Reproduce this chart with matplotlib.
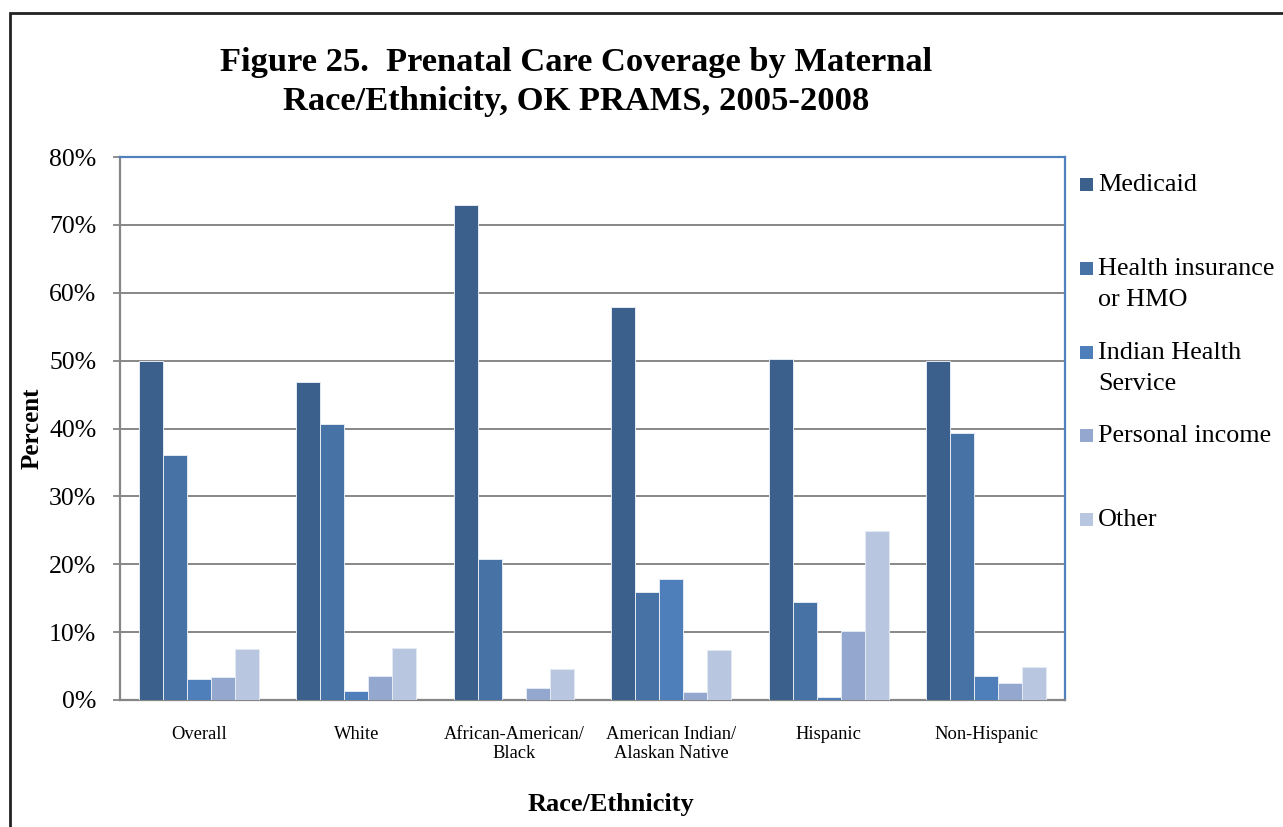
import matplotlib
matplotlib.use("Agg")
import matplotlib.pyplot as plt
from matplotlib.patches import Rectangle
import numpy as np

plt.rcParams['font.family'] = ['Liberation Serif', 'DejaVu Serif']

categories = ["Overall", "White", "African-American/\nBlack",
              "American Indian/\nAlaskan Native", "Hispanic", "Non-Hispanic"]
series_names = ["Medicaid", "Health insurance\nor HMO", "Indian Health\nService",
                "Personal income", "Other"]
medicaid = [50.0, 46.9, 73.0, 57.9, 50.3, 50.0]
health_insurance = [36.1, 40.6, 20.7, 15.9, 14.4, 39.4]
indian_health = [3.1, 1.3, 0.0, 17.9, 0.4, 3.5]
personal_income = [3.4, 3.6, 1.8, 1.2, 10.2, 2.5]
other = [7.5, 7.6, 4.6, 7.4, 24.9, 4.8]
series_values = [medicaid, health_insurance, indian_health, personal_income, other]
colors = ["#3B608B", "#4672A6", "#4F7FBB", "#94A8CF", "#B9C6E0"]
y_ticks = [0, 10, 20, 30, 40, 50, 60, 70, 80]

W, H = 1283, 827
fig = plt.figure(figsize=(W / 100, H / 100), dpi=100)
ax = fig.add_axes([120 / W, 1 - 700 / H, (1065 - 120) / W, (700 - 157) / H])

x = np.arange(len(categories))
bw = 0.152
n = len(series_values)
for i, (vals, c) in enumerate(zip(series_values, colors)):
    ax.bar(x + (i - (n - 1) / 2) * bw, vals, width=bw, color=c,
           edgecolor="#E4EAF3", linewidth=0.7, zorder=3)

ax.set_xlim(-0.5, len(categories) - 0.5)
ax.set_ylim(0, 80)
ax.set_yticks(y_ticks)
ax.set_yticklabels([f"{t}%" for t in y_ticks], fontsize=18.5)
ax.set_xticks(x)
ax.set_xticklabels(categories, fontsize=13.3, linespacing=1.12)
ax.tick_params(axis='x', length=0, pad=19)
ax.tick_params(axis='y', length=5, width=1.3, color="#868686", pad=12, direction='out')
ax.yaxis.grid(True, color="#878787", linewidth=1.4, zorder=0)
ax.set_axisbelow(True)

for side in ("left", "bottom"):
    ax.spines[side].set_color("#868686")
    ax.spines[side].set_linewidth(1.6)
for side in ("top", "right"):
    ax.spines[side].set_color("#4F81BD")
    ax.spines[side].set_linewidth(1.6)

ax.set_ylabel("Percent", fontsize=18, fontweight='bold')
ax.yaxis.set_label_coords(-0.081, 0.5)
fig.text(611 / W, 1 - 804 / H, "Race/Ethnicity", ha='center', va='center',
         fontsize=19, fontweight='bold')

fig.text(576 / W, 1 - 82 / H,
         "Figure 25.  Prenatal Care Coverage by Maternal\nRace/Ethnicity, OK PRAMS, 2005-2008",
         ha='center', va='center', fontsize=24.8, fontweight='bold', linespacing=1.34)

# legend drawn at the right of the plot area
legend_centers = [184, 268, 352, 435, 519]
for name, c, yc in zip(series_names, colors, legend_centers):
    fig.patches.append(Rectangle((1080 / W, 1 - (yc + 7) / H), 13 / W, 13 / H,
                                 transform=fig.transFigure, facecolor=c,
                                 edgecolor='none'))
    fig.text(1098 / W, 1 - (yc - 10) / H, name, ha='left', va='top',
             fontsize=18.8, linespacing=1.52)

# outer frame
fig.patches.append(Rectangle((10 / W, -0.05), 1.1, 1 - 13 / H + 0.05,
                             transform=fig.transFigure, facecolor='none',
                             edgecolor="#222222", linewidth=2.0))

fig.savefig("out.png", dpi=100)
